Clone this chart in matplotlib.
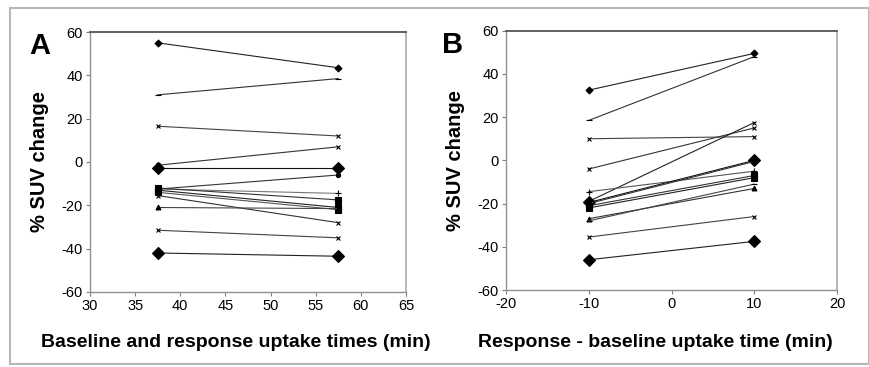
import matplotlib.pyplot as plt
from matplotlib.patches import Rectangle

plt.rcParams['font.family'] = ['Liberation Sans', 'DejaVu Sans']
plt.rcParams['axes.unicode_minus'] = False

# x positions of the two measurements
a_x = [37.5, 57.5]
b_x = [-10, 10]

# % SUV change, one entry per patient
a_start = [55, 31, 16.5, -1.5, -3, -12.5, -12.5, -12, -13, -14, -15.5, -21, -31.5, -42]
a_end = [43.5, 38.5, 12, 7, -3, -6, -14.5, -17.5, -21, -22, -28, -21.5, -35, -43.5]
b_start = [32.5, 18.5, 10, -4, -19, -14.5, -19.5, -20, -21, -22, -27, -28, -35.5, -46]
b_end = [49.5, 48, 11, 15, 17.5, -5, 0, -0.5, -7, -8, -13, -11, -26, -37.5]

a_ticks_x = [30, 35, 40, 45, 50, 55, 60, 65]
b_ticks_x = [-20, -10, 0, 10, 20]
y_ticks = [-60, -40, -20, 0, 20, 40, 60]

# marker style per series (marker, size, line colour)
a_styles = [('D', 3.5, '#222222'), ('_', 4, '#333333'), ('x', 3.5, '#444444'),
            ('x', 3.5, '#333333'), ('D', 6, '#111111'), ('o', 3, '#333333'),
            ('+', 4, '#777777'), ('s', 4, '#333333'), ('s', 4.5, '#222222'),
            ('s', 4.5, '#555555'), ('x', 3.5, '#333333'), ('^', 3.5, '#444444'),
            ('x', 3.5, '#444444'), ('D', 6, '#222222')]
b_styles = [('D', 3.5, '#222222'), ('_', 4, '#333333'), ('x', 3.5, '#444444'),
            ('x', 3.5, '#333333'), ('x', 3.5, '#222222'), ('+', 4, '#555555'),
            ('D', 6, '#111111'), ('o', 3, '#333333'), ('s', 4, '#333333'),
            ('s', 4.5, '#222222'), ('^', 3.5, '#333333'), ('_', 4, '#444444'),
            ('x', 3.5, '#444444'), ('D', 6, '#222222')]


def style_axes(ax, xlim, xticks, xlabel, letter, label_x, label_y):
    ax.set_xlim(xlim)
    ax.set_ylim(-60, 60)
    ax.set_xticks(xticks)
    ax.set_yticks(y_ticks)
    ax.tick_params(direction='out', length=3, width=0.8, color='#808080',
                   labelsize=10.5, pad=2)
    for side in ['left', 'bottom']:
        ax.spines[side].set_color('#909090')
        ax.spines[side].set_linewidth(1.0)
    ax.spines['top'].set_color('#555555')
    ax.spines['top'].set_linewidth(1.3)
    ax.spines['right'].set_color('#b0b0b0')
    ax.spines['right'].set_linewidth(1.3)
    ax.set_xlabel(xlabel, fontsize=14, fontweight='bold')
    ax.xaxis.set_label_coords(label_x, label_y)
    ax.set_ylabel('% SUV change', fontsize=14.5, fontweight='bold', labelpad=9)
    ax.text(-0.16, 1.0, letter, transform=ax.transAxes, fontsize=21,
            fontweight='bold', ha='center', va='top')


def draw_lines(ax, xs, starts, ends, styles):
    for s, e, (m, ms, c) in zip(starts, ends, styles):
        ax.plot(xs, [s, e], color=c, lw=0.8, marker=m, markersize=ms,
                markerfacecolor='black', markeredgecolor='black',
                markeredgewidth=0.8)


fig = plt.figure(figsize=(8.7, 3.67), dpi=100)
fig.patches.append(Rectangle((10 / 870, 3 / 367), 859 / 870, 356 / 367,
                             transform=fig.transFigure, fill=False,
                             edgecolor='#b8b8b8', lw=1.5))

ax1 = fig.add_axes([0.1034, 0.2044, 0.3632, 0.7084])
draw_lines(ax1, a_x, a_start, a_end, a_styles)
style_axes(ax1, (30, 65), a_ticks_x, 'Baseline and response uptake times (min)', 'A',
           0.462, -0.16)

ax2 = fig.add_axes([0.5816, 0.2098, 0.3805, 0.7065])
draw_lines(ax2, b_x, b_start, b_end, b_styles)
style_axes(ax2, (-20, 20), b_ticks_x, 'Response - baseline uptake time (min)', 'B',
           0.45, -0.168)

fig.savefig('out.png', dpi=100)
